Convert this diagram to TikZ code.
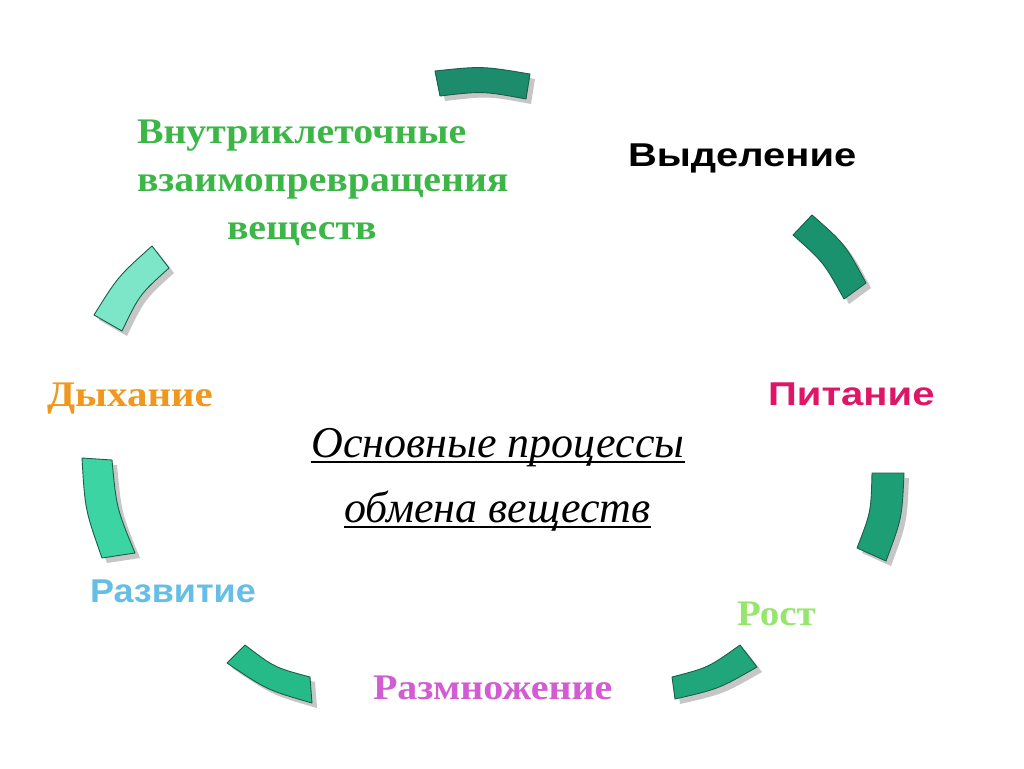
\documentclass[tikz,border=0pt]{standalone}
\usepackage{graphicx}
\usepackage{fontspec}
\setmainfont{Liberation Serif}
\newfontfamily\arialfont{Liberation Sans}
\definecolor{segA}{RGB}{28,140,108}
\definecolor{segB}{RGB}{26,146,110}
\definecolor{segC}{RGB}{30,158,116}
\definecolor{segD}{RGB}{32,166,122}
\definecolor{segE}{RGB}{38,186,136}
\definecolor{segF}{RGB}{60,212,162}
\definecolor{segG}{RGB}{125,230,200}
\definecolor{segline}{RGB}{25,95,75}
\definecolor{txtgreen}{RGB}{60,182,70}
\definecolor{txtorange}{RGB}{240,152,30}
\definecolor{txtcrimson}{RGB}{222,22,102}
\definecolor{txtblue}{RGB}{100,190,230}
\definecolor{txtlime}{RGB}{150,230,110}
\definecolor{txtviolet}{RGB}{210,92,210}
\newcommand\arcseg[7]{%
  \fill[gray!45,shift={(5,5)}] (#1) .. controls (#2) .. (#3) -- (#4) .. controls (#5) .. (#6) -- cycle;
  \filldraw[fill=#7,draw=segline,line width=0.9pt,line join=round] (#1) .. controls (#2) .. (#3) -- (#4) .. controls (#5) .. (#6) -- cycle;}
\newcommand\hs[2]{\scalebox{#1}[1]{#2}}
\tikzset{
  lbl/.style={anchor=base west,inner sep=0pt,outer sep=0pt},
  serifbold/.style={lbl,font=\fontsize{#1}{#1}\selectfont\bfseries},
  sansbold/.style={lbl,font=\arialfont\fontsize{#1}{#1}\selectfont\bfseries},
  center/.style={anchor=base,inner sep=0pt,outer sep=0pt,font=\fontsize{44}{44}\selectfont\itshape},
  uline/.style={line width=2.4pt,black}
}
\begin{document}
\begin{tikzpicture}[x=1pt,y=-1pt]
\useasboundingbox (0,0) rectangle (1024,768);
\fill[white] (0,0) rectangle (1024,768);
% arc segments
\arcseg{435,71}{482,66}{530,74}{526,99}{483,91}{440,96}{segA}
\arcseg{812,215}{845,244}{866,283}{844,299}{823.5,262}{793,235}{segB}
\arcseg{904,473}{902,518}{886,561}{857,548}{871,512}{872,473}{segC}
\arcseg{757,667}{718.5,689}{675,699}{672,677}{708.5,667.5}{740,645}{segD}
\arcseg{227,663}{267,690}{312,703}{310,677}{274.5,667.5}{245,645}{segE}
\arcseg{82,458}{85,509.5}{102,558}{135,553}{116.5,508}{112,460}{segF}
\arcseg{152,246}{118,276.5}{94,315}{122,331}{139.6,294.5}{169,268}{segG}
% labels
\node[serifbold=36,text=txtgreen] (v1) at (137,143) {\hs{1.105}{Внутриклеточные}};
\node[serifbold=36,text=txtgreen] (v2) at (137,191) {\hs{1.105}{взаимопревращения}};
\node[serifbold=36,text=txtgreen] (v3) at (227,239) {\hs{1.105}{веществ}};
\node[sansbold=33,text=black] (vyd) at (628,166) {\hs{1.209}{Выделение}};
\node[serifbold=36,text=txtorange] (dyh) at (47,406) {\hs{1.137}{Дыхание}};
\node[sansbold=33,text=txtcrimson] (pit) at (768,405) {\hs{1.215}{Питание}};
\node[sansbold=33,text=txtblue] (razv) at (90,602) {\hs{1.09}{Развитие}};
\node[serifbold=36,text=txtlime] (rost) at (737,625) {\hs{1.083}{Рост}};
\node[serifbold=36,text=txtviolet] (razm) at (373,699) {\hs{1.112}{Размножение}};
% centre title
\node[center] (t1) at (498,457) {Основные процессы};
\node[center] (t2) at (497.5,522) {обмена веществ};
\draw[uline] ([yshift=-5pt]t1.base west) -- ([yshift=-5pt]t1.base east);
\draw[uline] ([yshift=-5pt]t2.base west) -- ([yshift=-5pt]t2.base east);
\end{tikzpicture}
\end{document}
